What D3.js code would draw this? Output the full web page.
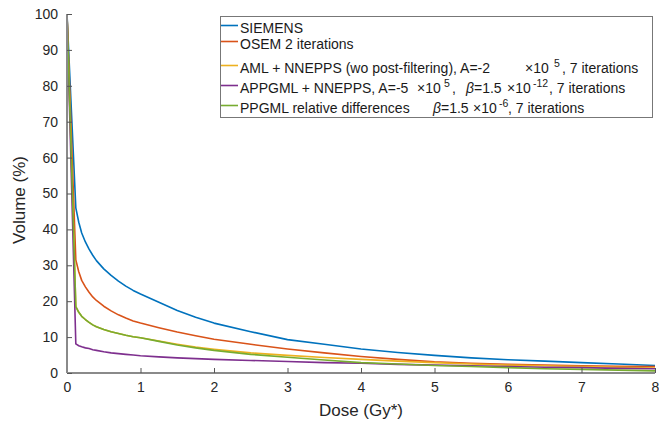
<!DOCTYPE html>
<html><head><meta charset="utf-8">
<script src="https://cdn.jsdelivr.net/npm/d3@7"></script>
<style>body{margin:0;background:#fff}svg{display:block}text{font-family:"Liberation Sans",Arial,sans-serif}</style>
</head><body><svg id="c" width="659" height="421"></svg>
<script>
const dose = [0,0.12,0.16,0.2,0.25,0.3,0.35,0.4,0.5,0.6,0.7,0.8,0.9,1.0,1.25,1.5,1.75,2.0,2.5,3,3.5,4,4.5,5,5.5,6,6.5,7,7.5,8];
const siemens = [100,46,42,39,36.5,34.5,32.8,31.3,29,27.2,25.6,24.2,23,22,19.7,17.4,15.5,13.9,11.5,9.3,8.0,6.7,5.7,4.9,4.2,3.7,3.3,2.9,2.5,2.1];
const osem = [100,31.5,28.2,25.8,24,22.5,21.2,20.2,18.6,17.3,16.2,15.3,14.5,13.9,12.6,11.4,10.4,9.4,8.0,6.7,5.6,4.6,3.8,3.1,2.7,2.4,2.2,2.0,1.9,1.8];
const aml = [100,18.5,16.9,15.8,14.9,14.1,13.4,12.9,12.1,11.5,11.0,10.5,10.1,9.8,8.9,8.0,7.2,6.6,5.6,4.9,4.3,3.8,3.3,2.9,2.5,2.2,2.0,1.8,1.6,1.4];
const appgml = [100,8.1,7.6,7.3,7.0,6.8,6.5,6.3,5.9,5.6,5.4,5.2,5.0,4.8,4.5,4.2,4.0,3.8,3.5,3.2,2.9,2.7,2.4,2.2,2.0,1.8,1.6,1.5,1.3,1.2];
const ppgml = [100,18.5,16.9,15.8,14.9,14.1,13.4,12.9,12.1,11.5,11.0,10.5,10.1,9.8,8.8,7.8,7.0,6.3,5.2,4.4,3.6,2.9,2.5,2.1,1.8,1.5,1.2,1.0,0.8,0.6];
const xTicks = [0,1,2,3,4,5,6,7,8];
const yTicks = [0,10,20,30,40,50,60,70,80,90,100];
const seriesNames = ["SIEMENS","OSEM 2 iterations","AML","APPGML","PPGML"];
const seriesColors = ["#0072BD","#D95319","#EDB120","#7E2F8E","#77AC30"];
const seriesValues = [siemens, osem, aml, appgml, ppgml];

const svg = d3.select("#c");
const x = d3.scaleLinear().domain([0,8]).range([67,655]);
const y = d3.scaleLinear().domain([0,100]).range([373,14]);

const line = d3.line().x(d=>x(d[0])).y(d=>y(d[1]));
seriesValues.forEach((vals,i)=>{
  svg.append("path").datum(dose.map((d,j)=>[d,vals[j]]))
    .attr("d",line).attr("fill","none").attr("stroke",seriesColors[i])
    .attr("stroke-width",1.6).attr("stroke-linejoin","round");
});

// axes
const xAxis = d3.axisBottom(x).tickValues(xTicks).tickSize(-5).tickPadding(9).tickFormat(d3.format("d"));
const yAxis = d3.axisLeft(y).tickValues(yTicks).tickSize(-5).tickPadding(9).tickFormat(d3.format("d"));
const gx = svg.append("g").attr("transform","translate(0,373)").call(xAxis);
const gy = svg.append("g").attr("transform","translate(67,0)").call(yAxis);
[gx,gy].forEach(g=>{
  g.select(".domain").attr("stroke","#8a8a8a").attr("stroke-width",2);
  g.selectAll(".tick line").attr("stroke","#555").attr("stroke-width",1);
  g.selectAll(".tick text").attr("fill","#262626").attr("font-size",14)
   .attr("font-family","Liberation Sans, Arial, sans-serif");
});
gx.select(".domain").attr("d","M67,0H655");
gy.select(".domain").attr("d","M0,373V14");

svg.append("text").attr("x",361).attr("y",416).attr("text-anchor","middle")
  .attr("font-size",17).attr("fill","#262626").text("Dose (Gy*)");
svg.append("text").attr("transform","translate(25,200) rotate(-90)").attr("text-anchor","middle")
  .attr("font-size",17).attr("fill","#262626").text("Volume (%)");

// legend
const lg = svg.append("g");
lg.append("rect").attr("x",220.5).attr("y",16.5).attr("width",432).attr("height",101)
  .attr("fill","#fff").attr("stroke","#777").attr("stroke-width",1);
const baselines = [33,49,73,93,113];
seriesColors.forEach((c,i)=>{
  lg.append("line").attr("x1",221).attr("x2",238).attr("y1",baselines[i]-7.5).attr("y2",baselines[i]-7.5)
    .attr("stroke",c).attr("stroke-width",1.6);
});
function row(i, parts){
  const t = lg.append("text").attr("y",baselines[i]).attr("font-size",14).attr("fill","#1a1a1a");
  parts.forEach(p=>{
    const s = t.append("tspan").text(p.t).attr("x",p.x).attr("y",baselines[i] - (p.sup?6:0));
    if(p.sup) s.attr("font-size",10.5);
    if(p.it) s.attr("font-style","italic");
  });
}
row(0,[{t:"SIEMENS",x:240}]);
row(1,[{t:"OSEM 2 iterations",x:240}]);
row(2,[{t:"AML + NNEPPS (wo post-filtering), A=-2",x:240},{t:"×10",x:525},{t:"5",sup:true,x:554},{t:", 7 iterations",x:562}]);
row(3,[{t:"APPGML + NNEPPS, A=-5",x:240},{t:"×10",x:417},{t:"5",sup:true,x:444},{t:",",x:452},{t:"β",it:true,x:466},{t:"=1.5",x:474},{t:"×10",x:507},{t:"-12",sup:true,x:533},{t:", 7 iterations",x:549}]);
row(4,[{t:"PPGML relative differences",x:240},{t:"β",it:true,x:433},{t:"=1.5",x:441},{t:"×10",x:473},{t:"-6",sup:true,x:499},{t:", 7 iterations",x:508}]);
</script></body></html>
